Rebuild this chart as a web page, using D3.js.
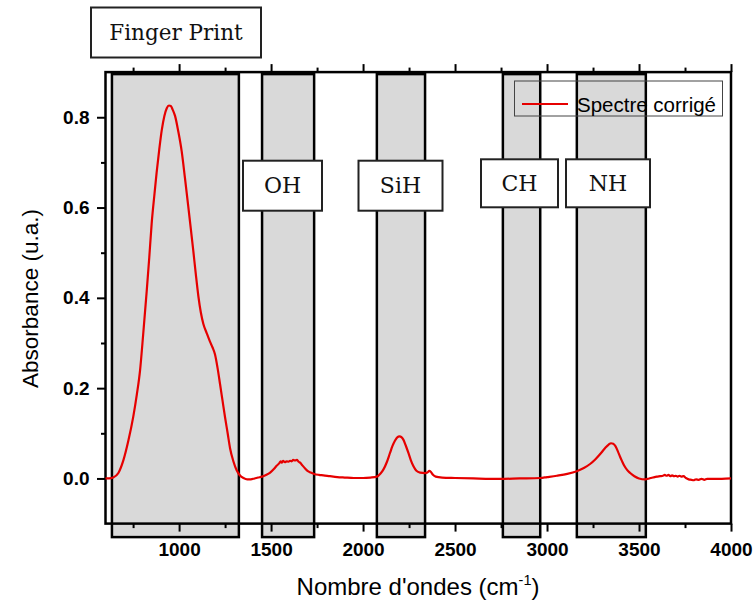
<!DOCTYPE html>
<html>
<head>
<meta charset="utf-8">
<script src="https://cdn.jsdelivr.net/npm/d3@7"></script>
<style>
  html, body { margin: 0; padding: 0; background: #fff; }
  svg { display: block; }
</style>
</head>
<body>
<svg id="chart" width="755" height="603"></svg>
<script>
// ---------- DATA ----------
const wavenumber = [
  600, 620, 642, 670, 697, 725, 751, 770, 788, 805, 824, 838, 851, 865, 878, 892, 906, 920, 933, 945,
  955, 965, 978, 995, 1014, 1032, 1050, 1064, 1077, 1091, 1105, 1118, 1132, 1150, 1168, 1182, 1195, 1209, 1223, 1237,
  1250, 1264, 1277, 1295, 1313, 1330, 1350, 1370, 1390, 1410, 1430, 1451, 1475, 1495, 1515, 1530, 1545, 1552, 1558, 1565,
  1575, 1585, 1595, 1603, 1612, 1620, 1630, 1640, 1650, 1658, 1670, 1685, 1700, 1715, 1734, 1760, 1784, 1820, 1860, 1900,
  1950, 2000, 2040, 2075, 2095, 2111, 2130, 2147, 2160, 2174, 2186, 2198, 2210, 2219, 2232, 2247, 2260, 2274, 2290, 2310,
  2337, 2350, 2360, 2368, 2380, 2395, 2430, 2500, 2600, 2745, 2850, 2963, 3000, 3053, 3110, 3162, 3200, 3234, 3262, 3289,
  3315, 3335, 3348, 3360, 3371, 3385, 3397, 3407, 3420, 3435, 3452, 3475, 3500, 3534, 3555, 3575, 3597, 3615, 3630, 3640,
  3650, 3660, 3670, 3680, 3690, 3700, 3710, 3720, 3730, 3742, 3755, 3770, 3785, 3796, 3810, 3825, 3840, 3855, 3870, 3900,
  3950, 4000
];
const absorbance = [
  0.000, 0.000, 0.002, 0.012, 0.040, 0.085, 0.137, 0.185, 0.240, 0.320, 0.415, 0.490, 0.565, 0.625, 0.678, 0.728, 0.772, 0.803, 0.820, 0.826,
  0.825, 0.817, 0.803, 0.770, 0.725, 0.665, 0.602, 0.552, 0.505, 0.452, 0.403, 0.368, 0.342, 0.322, 0.303, 0.290, 0.275, 0.245, 0.208, 0.170,
  0.135, 0.100, 0.067, 0.038, 0.018, 0.007, 0.001, -0.002, -0.002, 0.000, 0.002, 0.004, 0.008, 0.013, 0.021, 0.028, 0.034, 0.038, 0.035, 0.039,
  0.036, 0.038, 0.037, 0.039, 0.038, 0.041, 0.040, 0.041, 0.037, 0.035, 0.029, 0.022, 0.016, 0.013, 0.010, 0.008, 0.007, 0.005, 0.003, 0.002,
  0.001, 0.001, 0.002, 0.004, 0.011, 0.020, 0.037, 0.057, 0.072, 0.084, 0.091, 0.093, 0.091, 0.086, 0.073, 0.056, 0.040, 0.027, 0.017, 0.013,
  0.012, 0.013, 0.017, 0.015, 0.008, 0.004, 0.002, 0.001, 0.000, -0.001, 0.000, 0.001, 0.003, 0.006, 0.010, 0.016, 0.023, 0.032, 0.042, 0.054,
  0.067, 0.075, 0.078, 0.077, 0.072, 0.060, 0.048, 0.039, 0.028, 0.019, 0.012, 0.005, 0.000, -0.002, 0.000, 0.002, 0.004, 0.005, 0.006, 0.008,
  0.006, 0.008, 0.005, 0.007, 0.005, 0.006, 0.004, 0.006, 0.004, 0.005, 0.001, -0.002, -0.003, -0.004, -0.002, -0.003, -0.001, -0.003, -0.001, -0.001,
  -0.001, 0.000
];
const seriesName = "Spectre corrigé";

const regionNames = ["Finger Print", "OH", "SiH", "CH", "NH"];
const regionStart = [635, 1451, 2075, 2760, 3162];
const regionEnd   = [1325, 1734, 2337, 2963, 3537];

const xMajorTicks = [1000, 1500, 2000, 2500, 3000, 3500, 4000];
const xMinorTicks = [750, 1250, 1750, 2250, 2750, 3250, 3750];
const yMajorTicks = [0.0, 0.2, 0.4, 0.6, 0.8];
const yMinorTicks = [0.1, 0.3, 0.5, 0.7];

const xTitle = "Nombre d'ondes (cm";
const xTitleSup = "-1";
const yTitle = "Absorbance (u.a.)";

// ---------- LAYOUT ----------
const svg = d3.select("#chart");
const x = d3.scaleLinear().domain([600, 4000]).range([105.5, 731]);
const y = d3.scaleLinear().domain([-0.1, 0.9]).range([523.6, 72.1]);
const sans = "'Liberation Sans', Arial, sans-serif";
const serif = "'DejaVu Serif', Georgia, serif";
const red = "#e60000";

// label boxes (layout: left, top, width, height in px)
const labelBoxes = [
  {l: 91,  t: 7.5,   w: 170, h: 50},
  {l: 243, t: 160.7, w: 79,  h: 50},
  {l: 358.5, t: 160.7, w: 84, h: 50},
  {l: 481, t: 159.3, w: 77,  h: 48},
  {l: 566, t: 159.3, w: 84,  h: 48}
];

// ---------- REGIONS ----------
const regions = regionNames.map((n, i) => ({name: n, a: regionStart[i], b: regionEnd[i]}));
svg.append("g").selectAll("rect").data(regions).join("rect")
  .attr("x", d => x(d.a))
  .attr("width", d => x(d.b) - x(d.a))
  .attr("y", y(0.9) + 2)
  .attr("height", (y(-0.1) + 13.5) - (y(0.9) + 2))
  .attr("fill", "#d9d9d9")
  .attr("stroke", "#000")
  .attr("stroke-width", 2.5);

// ---------- AXES ----------
function styleAxis(g) {
  g.select(".domain").remove();
  g.selectAll(".tick line").attr("stroke", "#000").attr("stroke-width", 2);
  g.selectAll(".tick text").attr("fill", "#000");
}
// bottom
const gB = svg.append("g").attr("transform", `translate(0,${y(-0.1)})`)
  .call(d3.axisBottom(x).tickValues(xMajorTicks).tickSize(8).tickPadding(10.5).tickFormat(d3.format("d")))
  .call(styleAxis);
gB.selectAll(".tick text").attr("font-family", sans).attr("font-weight", "bold").attr("font-size", 19);
svg.append("g").attr("transform", `translate(0,${y(-0.1)})`)
  .call(d3.axisBottom(x).tickValues(xMinorTicks).tickSize(4.5).tickFormat(""))
  .call(styleAxis);
// top
svg.append("g").attr("transform", `translate(0,${y(0.9)})`)
  .call(d3.axisTop(x).tickValues(xMajorTicks).tickSize(8).tickFormat(""))
  .call(styleAxis);
svg.append("g").attr("transform", `translate(0,${y(0.9)})`)
  .call(d3.axisTop(x).tickValues(xMinorTicks).tickSize(4.5).tickFormat(""))
  .call(styleAxis);
// left
const gL = svg.append("g").attr("transform", `translate(${x(600)},0)`)
  .call(d3.axisLeft(y).tickValues(yMajorTicks).tickSize(8.5).tickPadding(7.5).tickFormat(d3.format(".1f")))
  .call(styleAxis);
gL.selectAll(".tick text").attr("font-family", sans).attr("font-weight", "bold").attr("font-size", 19);
svg.append("g").attr("transform", `translate(${x(600)},0)`)
  .call(d3.axisLeft(y).tickValues(yMinorTicks).tickSize(4.5).tickFormat(""))
  .call(styleAxis);
// frame lines
svg.append("rect")
  .attr("x", x(600)).attr("y", y(0.9))
  .attr("width", x(4000) - x(600)).attr("height", y(-0.1) - y(0.9))
  .attr("fill", "none").attr("stroke", "#000").attr("stroke-width", 2.5);

// ---------- CURVE ----------
const pts = wavenumber.map((w, i) => [w, absorbance[i]]);
svg.append("path")
  .datum(pts)
  .attr("fill", "none")
  .attr("stroke", red)
  .attr("stroke-width", 2.2)
  .attr("stroke-linejoin", "round")
  .attr("d", d3.line().x(d => x(d[0])).y(d => y(d[1])).curve(d3.curveMonotoneX));

// ---------- LABEL BOXES ----------
const lb = svg.append("g").selectAll("g").data(regions).join("g");
lb.append("rect")
  .attr("x", (d, i) => labelBoxes[i].l)
  .attr("y", (d, i) => labelBoxes[i].t)
  .attr("width", (d, i) => labelBoxes[i].w)
  .attr("height", (d, i) => labelBoxes[i].h)
  .attr("fill", "#fff").attr("stroke", "#222").attr("stroke-width", 2);
lb.append("text")
  .attr("x", (d, i) => labelBoxes[i].l + labelBoxes[i].w / 2)
  .attr("y", (d, i) => labelBoxes[i].t + labelBoxes[i].h / 2 + 7.5)
  .attr("text-anchor", "middle")
  .attr("font-family", serif)
  .attr("font-size", (d, i) => i === 0 ? 21.5 : 22)
  .attr("fill", "#111")
  .text(d => d.name);

// ---------- LEGEND ----------
const leg = svg.append("g");
leg.append("rect").attr("x", 514.5).attr("y", 81).attr("width", 208).attr("height", 35)
  .attr("fill", "none").attr("stroke", "#444").attr("stroke-width", 1);
leg.append("line").attr("x1", 522).attr("x2", 568).attr("y1", 104).attr("y2", 104)
  .attr("stroke", red).attr("stroke-width", 2);
leg.append("text").attr("x", 577).attr("y", 111.5)
  .attr("font-family", sans).attr("font-size", 20.5).attr("fill", "#000")
  .text(seriesName);

// ---------- TITLES ----------
const xt = svg.append("text")
  .attr("x", 418).attr("y", 595)
  .attr("text-anchor", "middle")
  .attr("font-family", sans).attr("font-size", 24).attr("fill", "#000");
xt.append("tspan").text(xTitle);
xt.append("tspan").attr("font-size", 14.5).attr("dy", -10).text(xTitleSup);
xt.append("tspan").attr("dy", 10).text(")");

svg.append("text")
  .attr("transform", `translate(38,298.5) rotate(-90)`)
  .attr("text-anchor", "middle")
  .attr("font-family", sans).attr("font-size", 22.5).attr("fill", "#000")
  .text(yTitle);
</script>
</body>
</html>
